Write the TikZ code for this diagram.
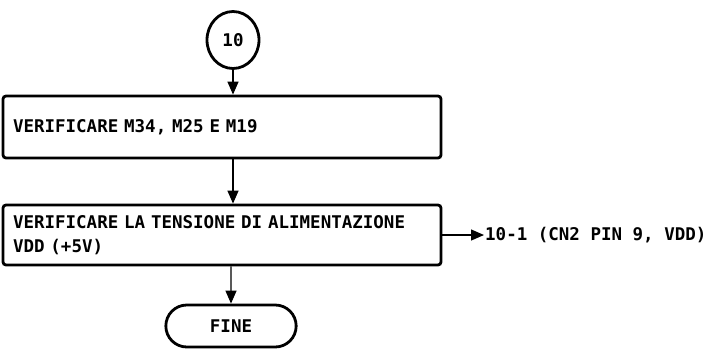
\documentclass[tikz,border=0pt]{standalone}
\usepackage{fontspec}
\setmonofont{DejaVu Sans Mono}
\usepackage{tikz}
\usetikzlibrary{shapes,arrows.meta,positioning,calc}

\begin{document}
\begin{tikzpicture}[x=1pt, y=-1pt,
        txt/.style={font=\ttfamily\bfseries\fontsize{17.5}{24}\selectfont},
        block/.style={rectangle, draw, line width=2.8pt, rounded corners=3pt, txt, align=left, inner xsep=10pt, text width=418pt, minimum width=438pt},
        conn/.style={ellipse, draw, line width=2.8pt, txt, minimum width=52pt, minimum height=57pt, inner sep=0pt},
        term/.style={rounded rectangle, draw, line width=2.8pt, txt, minimum width=137pt, minimum height=42pt},
        flow/.style={-{Triangle[length=13pt,width=11pt]}, line width=1.3pt}]
        \useasboundingbox (0,0) rectangle (710,349);

        % Connector
        \node[conn] (n10) at (233,40) {10};

        % Checks
        \node[block, minimum height=62pt] (chk) at (222,127) {VERIFICARE M34, M25 E M19};
        \node[block, minimum height=60pt] (vdd) at (222,235) {VERIFICARE LA TENSIONE DI ALIMENTAZIONE\\VDD (+5V)};

        % End
        \node[term] (fine) at (231,326) {FINE};

        % Reference
        \node[txt, anchor=west, inner sep=1pt] (ref) at (484,235) {10-1 (CN2 PIN 9, VDD)};

        \draw[flow] (n10) -- (n10 |- chk.north);
        \draw[flow] (chk.south -| n10) -- (vdd.north -| n10);
        \draw[flow] (vdd.south -| fine) -- (fine);
        \draw[flow] (vdd.east) -- (ref.west);

    \end{tikzpicture}
\end{document}
